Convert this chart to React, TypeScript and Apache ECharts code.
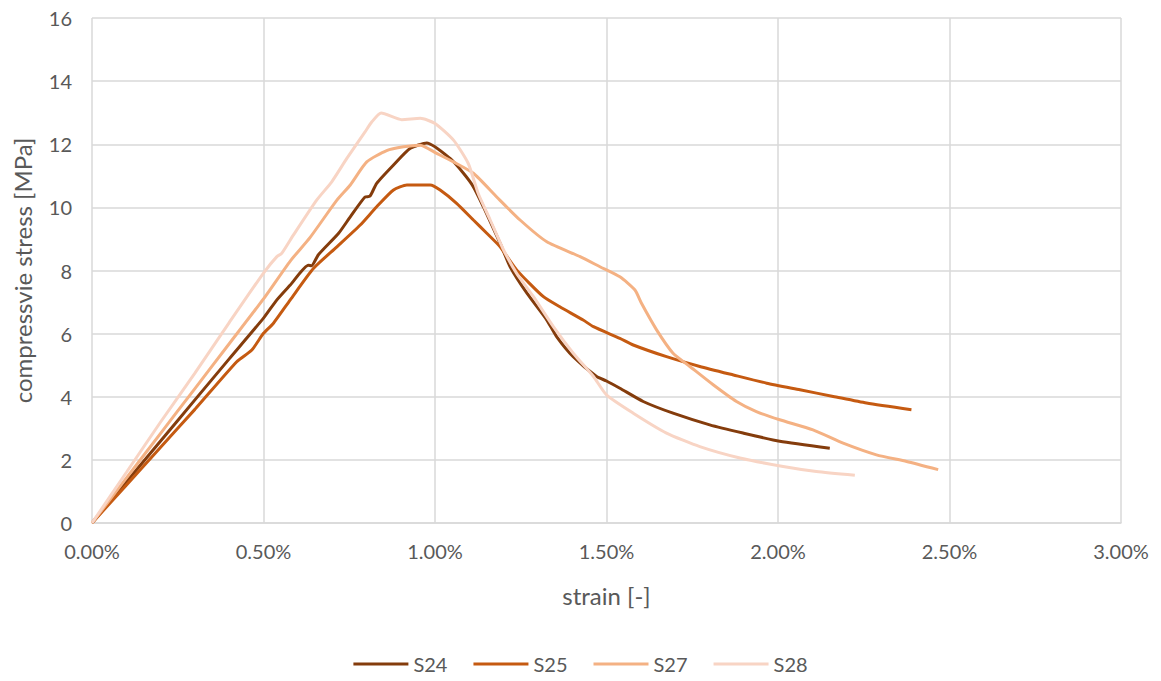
import React, { useEffect, useRef } from "react";
import * as echarts from "echarts";

const seriesNames = ["S24", "S25", "S27", "S28"];
const seriesColors = ["#843C0C", "#C55A11", "#F4B183", "#F8D4C4"];

// [strain %, stress MPa]
const s24: number[][] = [
  [0, 0], [0.1, 1.3], [0.2, 2.6], [0.3, 3.9], [0.4, 5.2], [0.5, 6.49], [0.539, 7.07], [0.578, 7.54],
  [0.631, 8.17], [0.64, 8.15], [0.66, 8.5], [0.719, 9.18], [0.753, 9.7], [0.796, 10.33], [0.81, 10.35],
  [0.83, 10.76], [0.879, 11.34], [0.928, 11.87], [0.976, 12.04], [1.044, 11.55], [1.083, 11.08],
  [1.112, 10.65], [1.141, 10.02], [1.19, 8.86], [1.219, 8.12], [1.268, 7.28], [1.326, 6.43], [1.355, 5.9],
  [1.403, 5.27], [1.471, 4.64], [1.5, 4.5], [1.539, 4.27], [1.607, 3.85], [1.694, 3.48], [1.801, 3.11],
  [1.898, 2.85], [2.005, 2.59], [2.151, 2.37],
];
const s25: number[][] = [
  [0, 0], [0.1, 1.2], [0.2, 2.4], [0.3, 3.6], [0.422, 5.11], [0.466, 5.48], [0.5, 6.01], [0.529, 6.33],
  [0.578, 7.07], [0.646, 8.07], [0.714, 8.75], [0.782, 9.44], [0.83, 10.02], [0.879, 10.55], [0.918, 10.71],
  [0.986, 10.71], [1.015, 10.55], [1.063, 10.13], [1.112, 9.6], [1.151, 9.18], [1.19, 8.75], [1.238, 8.02],
  [1.316, 7.17], [1.364, 6.85], [1.432, 6.43], [1.462, 6.22], [1.539, 5.85], [1.578, 5.64], [1.675, 5.27],
  [1.772, 4.96], [1.87, 4.69], [1.967, 4.43], [2.064, 4.22], [2.161, 4.01], [2.258, 3.8], [2.389, 3.59],
];
const s27: number[][] = [
  [0, 0], [0.1, 1.42], [0.2, 2.84], [0.3, 4.26], [0.4, 5.68], [0.5, 7.1], [0.578, 8.3], [0.636, 9.05],
  [0.714, 10.23], [0.753, 10.71], [0.801, 11.44], [0.859, 11.8], [0.908, 11.92], [0.957, 11.97],
  [1.005, 11.71], [1.054, 11.44], [1.112, 11.08], [1.18, 10.33], [1.248, 9.6], [1.326, 8.91], [1.423, 8.44],
  [1.481, 8.12], [1.539, 7.8], [1.583, 7.38], [1.602, 6.96], [1.646, 6.12], [1.694, 5.38], [1.743, 4.96],
  [1.811, 4.38], [1.879, 3.85], [1.937, 3.53], [2.005, 3.27], [2.102, 2.95], [2.19, 2.53], [2.287, 2.16],
  [2.375, 1.95], [2.467, 1.69],
];
const s28: number[][] = [
  [0, 0], [0.1, 1.6], [0.2, 3.2], [0.3, 4.75], [0.4, 6.35], [0.5, 7.92], [0.539, 8.44], [0.553, 8.54],
  [0.587, 9.12], [0.655, 10.23], [0.699, 10.81], [0.743, 11.55], [0.796, 12.39], [0.816, 12.71],
  [0.843, 12.99], [0.903, 12.78], [0.957, 12.82], [1.0, 12.66], [1.054, 12.13], [1.097, 11.39],
  [1.126, 10.44], [1.161, 9.6], [1.2, 8.65], [1.238, 7.91], [1.287, 7.17], [1.345, 6.22], [1.403, 5.38],
  [1.462, 4.64], [1.5, 4.06], [1.578, 3.48], [1.675, 2.85], [1.772, 2.42], [1.889, 2.06], [2.015, 1.79],
  [2.112, 1.63], [2.224, 1.51],
];
const seriesData = [s24, s25, s27, s28];

const xTitle = "strain [-]";
const yTitle = "compressvie stress [MPa]";

export default function App() {
  const ref = useRef<HTMLDivElement>(null);
  useEffect(() => {
    if (!ref.current) return;
    const chart = echarts.init(ref.current, null, { renderer: "svg" });
    const font = "Lato, 'Open Sans', sans-serif";
    chart.setOption({
      animation: false,
      backgroundColor: "#ffffff",
      textStyle: { fontFamily: font },
      grid: { left: 92, right: 40, top: 18, bottom: 158, containLabel: false, outerBoundsMode: "none" },
      legend: {
        bottom: 2,
        left: "center",
        itemWidth: 55,
        itemHeight: 14,
        itemGap: 26,
        icon: "path://M0,0 L55,0 L55,3 L0,3 Z",
        textStyle: { color: "#595959", fontSize: 20, fontFamily: font },
        data: seriesNames,
      },
      xAxis: {
        type: "value",
        min: 0,
        max: 3,
        interval: 0.5,
        name: xTitle,
        nameLocation: "middle",
        nameGap: 60,
        nameTextStyle: { color: "#595959", fontSize: 24, fontFamily: font },
        axisLine: { show: true, lineStyle: { color: "#d9d9d9", width: 1.5 } },
        axisTick: { show: false },
        axisLabel: {
          color: "#595959",
          fontSize: 20,
          margin: 18,
          formatter: (v: number) => v.toFixed(2) + "%",
        },
        splitLine: { show: true, lineStyle: { color: "#d9d9d9", width: 1.5 } },
      },
      yAxis: {
        type: "value",
        min: 0,
        max: 16,
        interval: 2,
        name: yTitle,
        nameLocation: "middle",
        nameGap: 58,
        nameRotate: 90,
        nameTextStyle: { color: "#595959", fontSize: 24, fontFamily: font },
        axisLine: { show: false },
        axisTick: { show: false },
        axisLabel: { color: "#595959", fontSize: 20, margin: 20 },
        splitLine: { show: true, lineStyle: { color: "#d9d9d9", width: 1.5 } },
      },
      series: seriesNames.map((name, i) => ({
        name,
        type: "line",
        data: seriesData[i],
        symbol: "none",
        smooth: 0.2,
        lineStyle: { color: seriesColors[i], width: 3 },
        itemStyle: { color: seriesColors[i] },
      })),
    });
    return () => chart.dispose();
  }, []);
  return <div ref={ref} style={{ width: 1161, height: 681, margin: -8 }} />;
}
